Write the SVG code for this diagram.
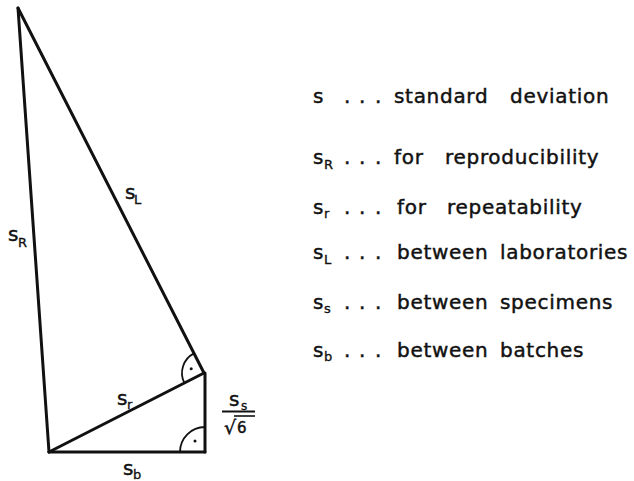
<svg xmlns="http://www.w3.org/2000/svg" width="634" height="481" viewBox="0 0 634 481">
<style>
.ln{stroke:#111;stroke-width:3;fill:none;stroke-linecap:round;stroke-linejoin:round}
.ra{stroke:#111;stroke-width:1.8;fill:none}
.t{font-family:"DejaVu Sans","Liberation Sans",sans-serif;font-size:20px;fill:#111;stroke:#111;stroke-width:0.45}
.sub{font-family:"DejaVu Sans","Liberation Sans",sans-serif;font-size:13px;fill:#111;stroke:#111;stroke-width:0.35}
.lg{letter-spacing:0.7px}
</style>
<rect width="634" height="481" fill="#fff"/>
<g id="connectors">
<line class="ln" x1="18" y1="8" x2="49" y2="452"/>
<line class="ln" x1="18" y1="8" x2="204" y2="373"/>
<line class="ln" x1="49" y1="452" x2="204" y2="373"/>
<line class="ln" x1="49" y1="452" x2="205" y2="452"/>
<line class="ln" x1="205" y1="373" x2="205" y2="452"/>
<path class="ra" d="M194,353.4 A22,22 0 0 0 184.4,383"/>
<circle cx="191.2" cy="368.8" r="1.5" fill="#111"/>
<path class="ra" d="M205,427 A25,25 0 0 0 180,452"/>
<circle cx="195" cy="441" r="1.5" fill="#111"/>
</g>
<g id="label-sR"><text class="t" x="8" y="241">s</text><text class="sub" x="18" y="247">R</text></g>
<g id="label-sL"><text class="t" x="125" y="199">s</text><text class="sub" x="134" y="204">L</text></g>
<g id="label-sr"><text class="t" x="117" y="405">s</text><text class="sub" x="127" y="409">r</text></g>
<g id="label-sb"><text class="t" x="123" y="475">s</text><text class="sub" x="133" y="479">b</text></g>
<g id="label-ss">
<text class="t" x="229" y="406">s</text><text class="sub" x="241" y="410" style="font-size:12px">s</text>
<line x1="222" y1="411.5" x2="255" y2="411.5" stroke="#111" stroke-width="2"/>
<text class="t" x="224" y="434" style="font-size:19px">√</text>
<line x1="234" y1="416" x2="255" y2="416" stroke="#111" stroke-width="1.6"/>
<text class="t" x="237" y="433" style="font-size:15px">6</text>
</g>
<g id="legend">
<g id="row1"><text class="t" x="313" y="103">s</text><text class="t" x="344 359 375" y="103">...</text><text class="t lg" y="103"><tspan x="394">standard</tspan><tspan x="510">deviation</tspan></text></g>
<g id="row2"><text class="t" x="313" y="164">s</text><text class="sub" x="324" y="169">R</text><text class="t" x="344 359 375" y="164">...</text><text class="t lg" y="164"><tspan x="394">for</tspan><tspan x="445">reproducibility</tspan></text></g>
<g id="row3"><text class="t" x="313" y="214">s</text><text class="sub" x="324" y="218">r</text><text class="t" x="344 359 375" y="214">...</text><text class="t lg" y="214"><tspan x="397">for</tspan><tspan x="447">repeatability</tspan></text></g>
<g id="row4"><text class="t" x="313" y="259">s</text><text class="sub" x="324" y="264">L</text><text class="t" x="344 359 375" y="259">...</text><text class="t lg" y="259"><tspan x="397">between</tspan><tspan x="500">laboratories</tspan></text></g>
<g id="row5"><text class="t" x="313" y="309">s</text><text class="sub" x="324" y="313">s</text><text class="t" x="344 359 375" y="309">...</text><text class="t lg" y="309"><tspan x="397">between</tspan><tspan x="500">specimens</tspan></text></g>
<g id="row6"><text class="t" x="313" y="357">s</text><text class="sub" x="324" y="361">b</text><text class="t" x="344 359 375" y="357">...</text><text class="t lg" y="357"><tspan x="397">between</tspan><tspan x="500">batches</tspan></text></g>
</g>
</svg>
